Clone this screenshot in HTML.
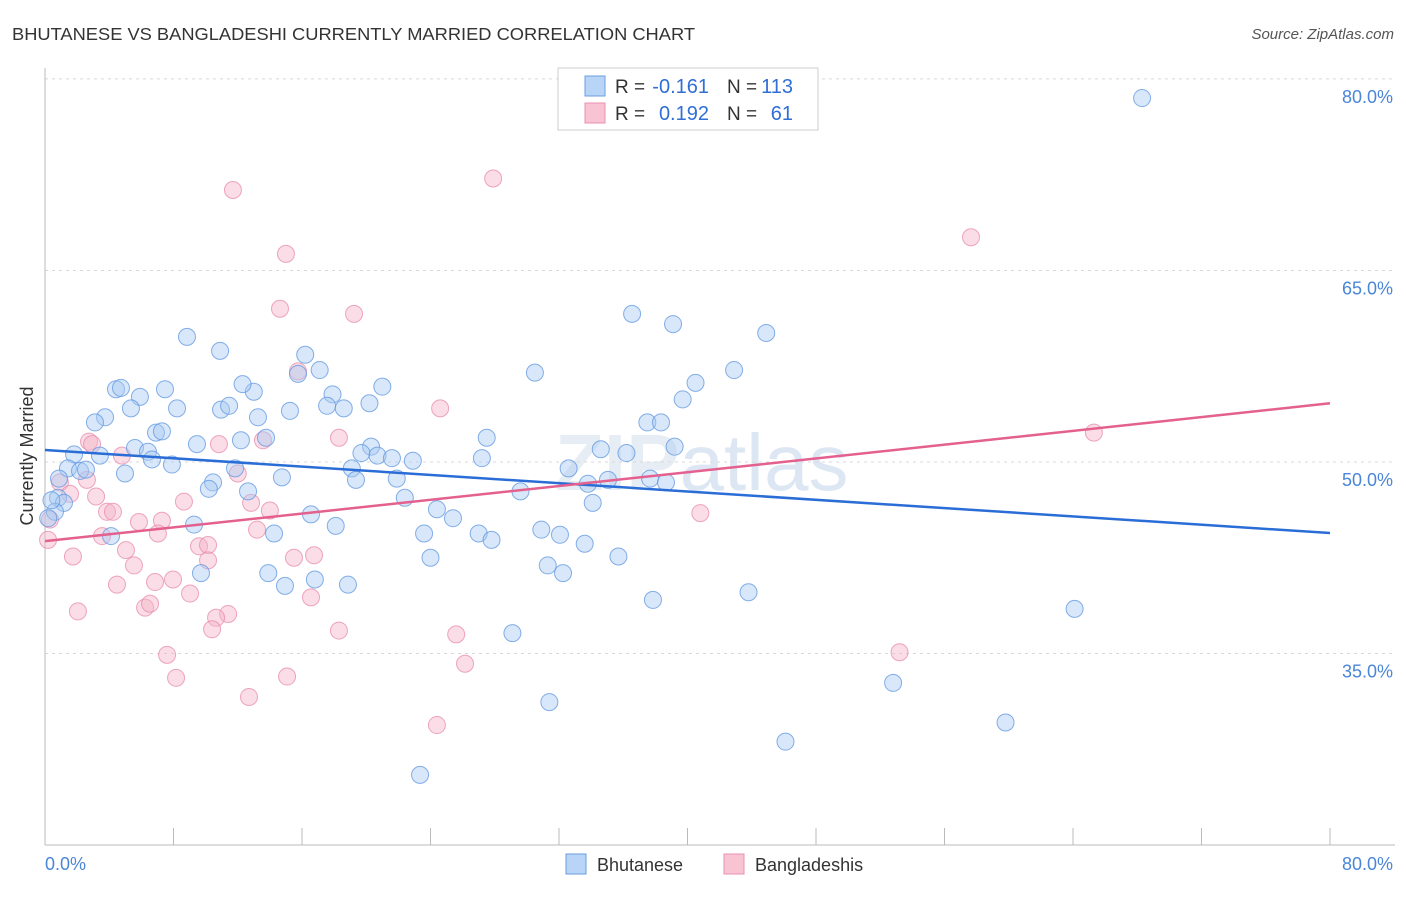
<!DOCTYPE html>
<html><head><meta charset="utf-8"><style>
body{margin:0;background:#fff;font-family:"Liberation Sans",sans-serif;}
svg text{font-family:"Liberation Sans",sans-serif;}
</style></head><body>
<svg id="chart" width="1406" height="892" viewBox="0 0 1406 892" xmlns="http://www.w3.org/2000/svg">
<text x="12" y="40" font-size="17.5" fill="#333" textLength="683" lengthAdjust="spacingAndGlyphs">BHUTANESE VS BANGLADESHI CURRENTLY MARRIED CORRELATION CHART</text>
<text x="1394" y="39" font-size="15" fill="#555" text-anchor="end" font-style="italic">Source: ZipAtlas.com</text>
<text x="555" y="490" font-size="80" fill="#d8e2ee" font-weight="bold" opacity="0.6">ZIP<tspan fill="#c8d8ee" font-weight="normal">atlas</tspan></text>
<g id="grid"></g>
<g id="axes"></g>
<g id="points"></g>
<g id="trends"></g>
<text transform="translate(33,456) rotate(-90)" font-size="18" fill="#333" text-anchor="middle">Currently Married</text>
<g>
<rect x="558" y="68" width="260" height="62" fill="#fff" stroke="#ccc"/>
<rect x="585" y="76" width="20" height="20" fill="#b8d4f6" stroke="#6a9fe0"/>
<rect x="585" y="103" width="20" height="20" fill="#f8c4d4" stroke="#e890b0"/>
<text x="615" y="93" font-size="19" fill="#333">R =</text>
<text x="709" y="93" font-size="20" fill="#2f6fd6" text-anchor="end">-0.161</text>
<text x="727" y="93" font-size="19" fill="#333">N =</text>
<text x="793" y="93" font-size="20" fill="#2f6fd6" text-anchor="end">113</text>
<text x="615" y="120" font-size="19" fill="#333">R =</text>
<text x="709" y="120" font-size="20" fill="#2f6fd6" text-anchor="end">0.192</text>
<text x="727" y="120" font-size="19" fill="#333">N =</text>
<text x="793" y="120" font-size="20" fill="#2f6fd6" text-anchor="end">61</text>
</g>
<g>
<rect x="566" y="854" width="20" height="20" fill="#b8d4f6" stroke="#6a9fe0"/>
<text x="597" y="871" font-size="18" fill="#333">Bhutanese</text>
<rect x="724" y="854" width="20" height="20" fill="#f8c4d4" stroke="#e890b0"/>
<text x="755" y="871" font-size="18" fill="#333">Bangladeshis</text>
</g>
</svg>
<script>
const yTicks=[35,50,65,80];
const xTickVals=[0,8,16,24,32,40,48,56,64,72,80];
const xLabels=["0.0%","80.0%"];
const blueX=[68.3,36.55,39.1,44.9,8.84,10.9,16.2,30.5,17.1,15.75,42.9,4.42,4.73,7.47,21.0,40.5,13.0,5.91,17.9,12.3,39.7,20.2,5.35,8.22,10.96,11.46,17.56,18.6,15.25,3.74,13.26,3.11,37.5,38.35,6.91,7.28,12.2,13.76,27.5,9.46,5.6,39.2,20.3,19.7,20.7,34.6,36.2,21.6,1.81,3.42,6.41,6.66,7.9,22.9,27.2,1.43,2.18,2.55,11.83,19.1,32.6,4.98,14.75,21.9,19.36,0.87,10.46,35.05,37.67,38.66,33.8,10.2,12.64,29.6,22.4,0.81,1.18,34.1,0.62,24.4,16.56,25.4,9.28,18.1,30.9,27.0,14.26,4.11,23.6,32.06,27.8,33.6,35.7,24.0,31.3,32.25,9.71,13.9,16.8,18.86,14.94,43.8,37.85,64.1,29.1,52.8,31.4,59.8,46.1,23.35,0.2,0.4];
const blueY=[78.5,61.6,60.8,60.1,59.8,58.7,58.4,57.0,57.2,56.9,57.2,55.7,55.8,55.7,55.9,56.2,55.5,55.1,55.3,56.1,54.9,54.6,54.2,54.2,54.1,54.4,54.4,54.2,54.0,53.5,53.5,53.1,53.1,53.1,52.3,52.4,51.7,51.9,51.9,51.4,51.1,51.2,51.2,50.7,50.5,51.0,50.7,50.3,50.6,50.5,50.8,50.2,49.8,50.1,50.3,49.5,49.3,49.4,49.5,49.5,49.5,49.1,48.8,48.7,48.6,48.7,48.4,48.6,48.7,48.4,48.3,47.9,47.7,47.7,47.2,47.2,46.8,46.8,46.1,46.3,45.9,45.6,45.1,45.0,44.7,44.4,44.4,44.2,44.4,44.3,43.9,43.6,42.6,42.5,41.9,41.3,41.3,41.3,40.8,40.4,40.3,39.8,39.2,38.5,36.6,32.7,31.2,29.6,28.1,25.5,45.6,47.0];
const pinkX=[27.9,11.7,57.65,15.0,14.63,19.24,2.74,2.93,15.75,24.6,18.3,65.3,10.83,13.57,4.79,0.93,2.61,12.0,1.56,3.18,8.65,12.83,7.28,5.85,3.86,4.23,14.0,3.55,13.2,7.03,5.04,9.59,10.15,10.15,1.74,15.5,16.75,5.54,4.48,6.85,7.97,9.03,16.56,11.4,10.65,2.05,6.23,6.54,10.4,18.3,25.6,7.6,26.15,8.16,15.07,12.7,24.4,40.8,53.2,0.19,0.31];
const pinkY=[72.2,71.3,67.6,66.3,62.0,61.6,51.6,51.4,57.1,54.2,51.9,52.3,51.4,51.7,50.5,48.4,48.6,49.1,47.5,47.3,46.9,46.8,45.4,45.3,46.1,46.1,46.2,44.2,44.7,44.4,43.1,43.4,43.5,42.3,42.6,42.5,42.7,41.9,40.4,40.6,40.8,39.7,39.4,38.1,37.8,38.3,38.6,38.9,36.9,36.8,36.5,34.9,34.2,33.1,33.2,31.6,29.4,46.0,35.1,43.9,45.5];
const blueTrend=[50.94,44.44];
const pinkTrend=[43.8,54.6];
const NS="http://www.w3.org/2000/svg";
const X=v=>45+v*(1285/80);
const Y=v=>462-(v-50)*12.77;
function mk(tag,attrs,parent){const e=document.createElementNS(NS,tag);for(const k in attrs)e.setAttribute(k,attrs[k]);document.getElementById(parent).appendChild(e);return e;}
yTicks.forEach(t=>{
 const l=mk('line',{x1:45,x2:1395,y1:Y(t),y2:Y(t),stroke:'#d8d8d8','stroke-dasharray':'3,4'},'grid');
 
 
 const tx=mk('text',{x:1393,y:Y(t)+24,'font-size':18,fill:'#4a86d8','text-anchor':'end'},'grid');
 tx.textContent=t.toFixed(1)+'%';
 
 
});
const ax=mk('line',{x1:45,x2:45,y1:68,y2:845,stroke:'#bbb'},'axes');


const bx=mk('line',{x1:45,x2:1395,y1:845,y2:845,stroke:'#bbb'},'axes');


xTickVals.forEach(t=>{
 const l=mk('line',{x1:X(t),x2:X(t),y1:828,y2:845,stroke:'#bbb'},'axes');
 
 
});
const xl0=mk('text',{x:45,y:870,'font-size':18,fill:'#4a86d8'},'axes');xl0.textContent=xLabels[0];


const xl1=mk('text',{x:1393,y:870,'font-size':18,fill:'#4a86d8','text-anchor':'end'},'axes');xl1.textContent=xLabels[1];


function dots(xs,ys,fill,stroke,name){xs.forEach((v,i)=>{
 const c=mk('circle',{cx:X(v),cy:Y(ys[i]),r:8.5,fill:fill,'fill-opacity':0.45,stroke:stroke,'stroke-opacity':0.75,'stroke-width':1},'points');
 
 
});}
dots(pinkX,pinkY,'#f5b3c8','#e88aab','bangladeshi-point');
dots(blueX,blueY,'#a9c9f2','#5d95e0','bhutanese-point');
const bt=mk('line',{x1:X(0),y1:Y(blueTrend[0]),x2:X(80),y2:Y(blueTrend[1]),stroke:'#2a6dd6','stroke-width':2.5},'trends');


const pt=mk('line',{x1:X(0),y1:Y(pinkTrend[0]),x2:X(80),y2:Y(pinkTrend[1]),stroke:'#e4608e','stroke-width':2.5},'trends');


</script>
</body></html>
